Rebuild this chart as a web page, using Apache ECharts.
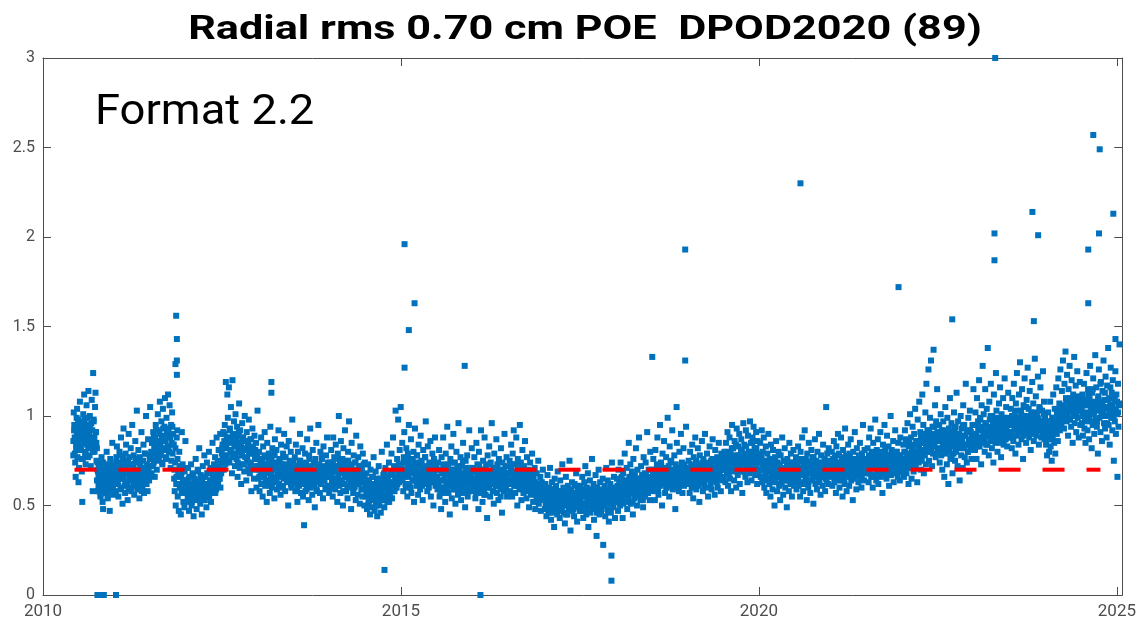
<!DOCTYPE html>
<html>
<head>
<meta charset="utf-8">
<title>Radial rms</title>
<script src="https://cdn.jsdelivr.net/npm/echarts@6/dist/echarts.min.js"></script>
<style>
  html, body { margin: 0; padding: 0; background: #fff; }
  #chart { width: 1139px; height: 621px; }
</style>
</head>
<body>
<div id="chart"></div>
<script>
// radial rms per day, in hundredths of cm, grouped by period start (year)
const periodStarts = [2010.42, 2010.75, 2011.0, 2011.5, 2012.0, 2012.5, 2013.0, 2013.5, 2014.0, 2014.5,
  2015.0, 2015.5, 2016.0, 2016.5, 2017.0, 2017.5, 2018.0, 2018.5, 2019.0, 2019.5,
  2020.0, 2020.5, 2021.0, 2021.5, 2022.0, 2022.5, 2023.0, 2023.5, 2024.0, 2024.5]
const periodEnd = 2025.04

// spread of the daily values in each period
const rmsHundredths = [
  [78,102,95,88,74,66,81,99,104,92,85,63,71,97,108,90,83,76,69,52,94,101,87,112,98,79,73,91,106,84,95,77,114,89,93,100,86,72,96,109,82,58,124,98,88,80,105,113,91,75],
  [82,74,69,61,58,66,72,55,63,77,70,52,48,64,59,68,73,57,62,80,67,54,71,60,65,47,76,63,58,69,85,61,56,72,66],
  [71,64,58,77,83,69,62,55,74,80,67,59,88,72,65,51,76,93,68,61,57,79,84,70,63,53,75,90,66,60,73,82,58,69,95,64,71,78,56,62,86,74,67,103,59,70,81,65,54,77,72,63,91,68,60,75,84,57,66,79,71,100,62,73,58,87,69,64,76,105],
  [72,80,68,85,77,91,74,83,66,88,95,79,70,86,101,82,75,92,108,84,78,97,89,73,104,87,81,94,110,86,76,99,90,83,112,93,80,106,88,71,95,85,102,79,90,84,65,58,74,50,62,88,92,55,68,47,80,60,72,45,66,91,57,63,52,70,49,59,86,64],
  [58,64,52,71,60,47,66,55,62,73,50,57,68,61,44,59,65,53,76,62,48,58,70,63,54,82,60,51,67,57,45,64,72,56,61,78,53,66,59,49,74,62,55,68,80,58,64,71,52,69,61,85,66,57,73,63,77,70,59,88,67,75,62,81,72,65,90,74,68,79],
  [82,76,91,70,86,95,73,119,84,78,112,99,88,116,74,93,81,105,87,68,120,90,79,97,83,72,101,85,76,94,66,89,80,107,71,92,84,62,78,96,73,88,81,69,100,77,86,64,91,75,83,70,98,79,68,87,74,58,82,93,71,80,65,89,76,72,85,60,78,103],
  [72,65,80,58,76,69,88,62,74,55,83,70,66,91,61,77,73,52,85,68,64,79,71,57,94,67,75,60,82,70,63,78,54,87,72,66,81,59,74,69,92,62,76,71,56,84,68,73,61,79,65,90,70,58,77,67,83,63,72,50,86,69,75,64,80,60,71,98,66,74],
  [70,63,77,58,84,66,72,52,80,69,61,75,90,64,57,73,68,82,55,71,39,66,79,62,74,59,87,67,70,53,78,64,93,60,72,68,56,81,65,74,61,49,76,69,85,58,71,63,95,67,73,57,80,66,62,76,70,54,83,68,64,72,59,78,66,88,61,74,69,57],
  [68,74,60,81,66,71,55,88,63,77,69,59,84,72,65,52,79,67,100,61,73,57,86,69,64,76,50,82,70,62,92,67,58,75,71,54,80,65,97,60,73,68,48,85,63,70,57,78,66,61,74,53,89,64,69,56,77,62,72,51,83,67,59,71,55,79,63,66,50,74],
  [62,55,68,48,59,73,51,64,57,45,70,60,53,66,49,58,77,62,47,55,69,52,61,44,65,57,72,50,59,63,46,56,80,61,53,67,58,49,64,71,55,60,84,52,66,58,74,63,57,69,61,79,54,67,88,62,72,58,65,103,70,60,76,66,98,73,63,81,68,105],
  [72,64,85,68,58,77,91,66,74,60,82,70,55,79,67,95,62,73,69,87,57,76,64,71,80,52,68,93,65,74,61,78,70,56,84,67,72,59,89,63,75,69,53,81,66,71,62,77,97,64,70,58,83,68,60,74,66,86,55,72,63,79,67,50,76,69,88,61,73,65],
  [66,59,74,62,81,55,70,64,48,77,68,60,88,57,72,65,52,79,63,69,94,58,73,61,67,45,76,66,83,54,70,62,90,59,68,74,51,65,80,61,71,56,96,64,69,58,77,53,66,72,60,85,57,67,63,49,75,62,70,78,55,68,64,92,59,71,66,60,82,63],
  [64,71,58,77,62,54,69,85,60,73,66,48,80,63,57,70,92,61,67,52,75,64,59,88,68,56,72,63,43,78,65,60,83,69,55,74,62,96,66,58,71,51,79,64,68,61,87,57,73,65,53,76,62,70,59,82,67,46,74,63,69,58,90,65,72,60,77,55,68,64],
  [68,62,75,58,71,84,64,55,79,67,92,61,73,57,69,88,63,50,76,65,70,59,95,66,74,53,62,81,68,57,72,64,86,60,67,54,77,63,58,70,49,65,74,60,56,68,79,61,52,66,59,71,48,63,57,68,54,62,75,51,60,56,66,47,58,63,53,70,55,61],
  [55,48,62,51,44,58,67,53,46,60,50,71,57,42,54,63,49,59,52,38,65,56,47,61,53,45,69,58,50,55,43,64,51,57,48,73,54,60,46,52,40,58,66,50,56,45,61,53,48,75,55,36,59,51,63,47,57,52,44,62,54,49,68,56,41,58,50,60,53,47],
  [54,61,47,58,66,51,43,56,63,49,72,55,45,60,52,68,38,57,50,64,46,59,53,76,48,55,62,42,58,51,67,54,33,60,49,57,70,52,45,63,56,47,59,53,65,28,55,50,61,44,58,71,52,48,64,56,41,59,53,62,46,57,74,51,55,49,66,58,43,60],
  [58,52,65,61,47,70,56,63,50,74,59,66,54,43,68,61,57,79,52,64,60,71,48,62,55,85,66,58,73,51,63,69,57,45,76,61,54,67,59,82,64,50,70,62,56,88,65,60,53,72,58,67,63,49,77,61,68,55,74,64,59,91,57,66,70,62,53,80,65,60],
  [64,70,58,76,62,67,53,81,66,60,73,88,63,56,71,68,95,61,74,65,50,79,67,62,86,70,57,64,77,60,69,99,63,72,55,83,66,61,75,68,92,59,70,64,78,62,48,73,67,85,60,71,65,58,80,69,63,90,66,74,57,68,82,61,72,64,70,94,67,63],
  [68,62,75,70,57,80,65,72,60,84,67,54,77,69,63,88,71,59,74,66,82,61,70,52,78,67,73,64,86,69,58,76,63,71,90,66,74,60,79,68,55,72,65,83,70,62,75,59,67,87,73,64,69,56,81,66,71,63,77,60,74,85,68,65,72,58,79,70,64,76],
  [72,66,80,70,63,85,74,68,91,61,77,71,88,65,79,58,73,95,69,82,75,64,86,71,78,60,93,72,67,83,76,90,62,74,70,87,81,57,76,96,69,84,73,66,92,78,71,63,89,75,80,68,97,72,85,64,77,88,70,94,74,82,67,79,91,73,62,86,76,69],
  [78,70,85,66,74,92,63,80,71,88,60,75,68,83,57,72,79,65,90,70,62,76,55,84,68,73,59,81,67,71,50,77,64,86,69,58,74,66,80,61,72,53,78,67,63,88,70,56,75,65,82,60,71,68,49,76,64,73,58,85,67,62,79,69,55,74,66,81,61,70],
  [70,64,77,59,73,66,83,61,75,68,55,80,71,63,88,67,58,74,69,92,62,76,65,53,79,72,60,85,68,74,57,70,81,64,77,66,51,73,69,87,62,75,67,59,80,71,65,90,63,72,56,78,68,74,61,84,70,66,76,58,73,105,64,79,69,62,82,71,67,75],
  [72,66,80,61,75,69,86,63,77,71,57,83,68,74,90,65,79,60,73,70,88,64,76,55,81,67,72,62,93,70,78,58,74,66,84,69,61,77,71,87,64,75,68,53,80,72,65,91,70,76,59,82,67,73,63,78,71,85,66,74,60,79,69,95,72,64,81,70,76,68],
  [74,68,82,71,63,88,76,70,93,66,79,73,60,85,72,77,67,98,75,64,81,70,87,62,78,74,69,91,66,80,72,57,84,76,71,95,68,79,73,65,89,75,70,83,61,77,72,100,67,81,74,69,86,63,78,71,92,76,68,80,73,66,85,70,78,64,88,72,75,69],
  [76,70,84,66,80,92,73,87,68,79,96,74,62,85,78,101,71,88,65,82,94,75,69,90,80,104,72,86,77,63,98,83,74,108,79,91,70,85,76,112,81,95,68,88,78,102,73,118,84,92,80,126,75,89,99,82,131,86,72,94,79,137,90,83,106,77,97,87,115,81],
  [88,80,95,74,86,101,78,92,70,84,97,82,66,90,105,79,87,73,99,85,62,93,81,110,76,89,96,83,68,91,79,102,86,75,94,80,113,88,72,97,84,90,64,85,100,78,93,87,71,106,82,95,77,89,118,84,74,92,80,99,86,69,103,83,91,76,88,95,81,115],
  [88,95,81,102,90,76,110,85,97,92,120,83,99,88,73,106,94,128,86,101,91,80,115,96,84,104,89,138,93,78,108,98,87,118,92,82,100,95,74,112,89,97,85,124,103,91,80,99,94,107,86,116,90,77,101,96,88,110,84,93,121,98,87,105,92,83,99,113,89,95],
  [95,88,104,91,82,110,97,86,118,93,101,79,107,95,124,89,99,84,112,96,130,91,103,87,115,98,76,106,93,121,90,100,85,109,96,127,92,104,88,114,97,81,102,94,119,90,107,86,99,132,95,111,89,101,92,122,98,84,105,93,116,97,88,103,91,125,96,108,87,100],
  [90,84,97,78,93,102,87,80,95,108,83,91,75,99,88,112,94,85,104,79,96,116,90,101,86,121,98,107,92,126,103,95,114,99,131,105,93,118,100,136,110,97,123,102,89,115,106,128,98,109,94,120,104,85,112,101,133,96,108,117,91,105,125,99,111,88,103,119,95,107],
  [104,96,112,89,101,118,93,108,85,99,124,106,92,115,100,87,110,128,97,104,82,113,95,121,102,90,107,134,98,116,94,103,79,111,126,99,108,91,119,105,86,114,101,131,96,109,93,122,104,88,117,100,138,95,110,84,106,127,99,113,92,120,103,75,109,97,125,90,112,101,66,118,94,107,140]
]

// the dense middle of the band in each period (hundredths of cm)
const coreHundredths = [
  [86,92,79,95,84,90,77,98,88,83,94,81,91,87,76,96,85,89,80,93,86,99,82,90,78,94,87,84,92,80,97,88,83,91,85],
  [64,70,58,67,73,61,66,56,71,63,68,59,74,65,62,69,57,72,64,60,67,55,70,63,66,61,73,58,68,64,71,60,65,62,69],
  [68,74,62,71,65,78,60,70,66,75,63,72,68,59,77,64,69,73,61,67,76,65,70,62,74,68,58,71,66,79,63,69,72,65,67],
  [78,85,72,88,81,92,76,84,90,79,86,74,93,82,87,77,91,83,80,89,75,94,84,70,82,66,76,62,71,68,58,73,64,69,61],
  [60,55,65,58,62,52,67,59,63,56,61,69,54,64,57,60,66,53,62,58,68,61,55,64,70,59,63,66,57,72,62,68,65,60,70],
  [84,78,90,82,88,75,86,92,80,85,77,89,83,79,87,74,91,81,85,78,88,73,82,86,76,84,80,72,87,79,83,70,81,76,78],
  [70,66,75,62,73,68,78,64,71,69,76,61,72,67,74,65,79,70,63,72,68,75,66,71,60,77,69,73,64,70,67,74,62,71,68],
  [68,63,72,60,70,66,75,62,69,73,65,58,71,67,64,76,61,70,68,63,74,66,59,72,65,69,62,77,67,64,71,60,68,73,66],
  [67,71,63,74,60,69,65,72,62,76,68,64,70,58,73,66,69,61,75,67,63,71,65,68,60,74,66,70,62,72,64,69,59,73,67],
  [60,56,64,52,59,62,54,66,57,61,50,63,58,55,65,53,60,57,68,62,55,64,59,52,67,61,58,63,70,60,65,62,68,64,70],
  [70,65,74,68,62,76,71,66,73,60,69,75,64,72,67,78,63,70,66,74,61,71,68,77,65,72,62,69,73,64,70,67,75,63,71],
  [66,62,70,58,68,64,73,60,67,71,63,57,69,65,74,61,66,70,59,67,64,72,62,68,65,75,60,66,69,63,71,58,67,64,70],
  [65,61,69,57,66,63,72,59,67,64,70,56,68,62,65,73,60,66,63,69,58,67,64,71,61,65,68,55,66,62,70,64,59,67,63],
  [68,64,72,62,69,66,73,61,67,70,63,65,71,60,66,68,62,64,58,65,61,67,57,63,60,59,62,55,61,57,60,54,58,56,59],
  [54,50,57,48,55,52,59,46,53,56,51,60,49,54,52,58,47,55,53,50,56,45,54,51,57,49,53,55,48,56,52,61,50,54,53],
  [53,57,49,55,51,59,47,54,52,56,50,58,48,55,53,60,46,54,51,57,49,53,55,50,58,52,54,47,56,51,53,59,50,55,52],
  [57,60,53,62,58,55,64,51,59,61,56,63,54,60,58,66,52,61,57,63,55,59,62,56,65,60,53,62,58,67,61,57,64,59,63],
  [63,67,60,70,64,66,58,69,65,72,62,67,64,71,60,66,69,63,74,65,61,68,66,70,63,67,59,71,65,68,62,73,66,64,69],
  [68,64,71,66,73,62,69,67,75,65,70,63,72,68,66,74,61,69,71,65,73,67,64,70,76,66,69,72,63,68,74,67,70,65,71],
  [73,77,70,80,74,68,79,75,82,71,76,73,84,70,78,75,72,81,77,69,79,74,83,76,71,78,80,73,85,75,77,72,82,76,79],
  [74,70,77,66,72,75,68,71,64,73,69,76,65,70,72,63,74,68,71,66,73,62,70,67,75,69,64,72,68,71,65,74,69,67,72],
  [70,67,74,64,71,68,76,62,72,69,66,75,70,63,73,68,71,65,77,69,72,67,74,64,70,73,66,71,68,75,65,72,69,70,67],
  [72,69,76,66,73,71,78,64,74,70,68,77,72,65,75,70,73,67,79,71,74,69,76,66,72,75,68,73,70,77,67,74,71,72,69],
  [74,71,78,68,75,73,80,66,76,72,70,79,74,67,77,72,75,69,82,73,76,71,78,68,74,77,70,75,72,80,69,76,73,78,75],
  [76,73,80,71,78,75,83,72,79,77,74,84,80,76,86,78,82,75,88,81,85,79,90,83,87,80,92,85,82,89,84,94,86,88,91],
  [86,82,90,79,87,84,92,80,88,85,83,91,86,78,89,84,93,81,87,85,90,82,88,86,95,83,89,84,91,80,87,92,85,88,83],
  [90,86,95,83,92,88,98,85,93,89,87,96,91,84,94,89,100,86,92,90,95,87,93,88,97,85,91,94,89,99,87,92,90,96,88],
  [95,91,100,88,96,93,103,90,97,94,92,101,96,89,99,94,105,91,97,95,100,92,98,93,102,90,96,99,94,104,92,97,95,101,93],
  [92,88,95,90,97,87,94,99,91,96,93,101,95,98,104,97,100,106,99,103,108,101,105,98,110,103,107,100,104,109,102,106,103,108,105],
  [104,100,109,97,106,102,112,99,107,103,115,101,108,105,97,110,104,118,102,107,100,113,105,96,109,103,116,101,106,99,111,104,108,102,106]
]

// isolated days well off the band: [year, rms cm]
const outlierDays = [
  [2010.76, 0], [2010.78, 0], [2010.80, 0], [2010.83, 0], [2010.85, 0], [2011.02, 0],
  [2011.86, 1.56], [2011.87, 1.43], [2011.85, 1.29], [2011.87, 1.31], [2011.87, 1.23],
  [2013.19, 1.19], [2013.19, 1.13],
  [2014.77, 0.14],
  [2015.05, 1.96], [2015.19, 1.63], [2015.11, 1.48], [2015.05, 1.27],
  [2015.89, 1.28], [2016.11, 0.0],
  [2017.94, 0.22], [2017.94, 0.08],
  [2018.51, 1.33], [2018.85, 1.05], [2018.97, 1.93], [2018.97, 1.31],
  [2020.58, 2.30],
  [2021.95, 1.72], [2022.70, 1.54],
  [2023.30, 3.0], [2023.29, 2.02], [2023.29, 1.87],
  [2023.82, 2.14], [2023.90, 2.01], [2023.84, 1.53],
  [2024.67, 2.57], [2024.76, 2.49], [2024.75, 2.02], [2024.60, 1.93], [2024.60, 1.63],
  [2024.95, 2.13], [2024.98, 1.43]
]

const meanRms = 0.70
const meanSpan = [2010.44, 2024.77]
const yearTicks = [2010, 2015, 2020, 2025]

const points = []
function spreadOver(groups) {
  groups.forEach((vals, i) => {
    const t0 = periodStarts[i]
    const t1 = i + 1 < periodStarts.length ? periodStarts[i + 1] : periodEnd
    vals.forEach((v, k) => {
      points.push([t0 + (k + 0.5) / vals.length * (t1 - t0), v / 100])
    })
  })
}
spreadOver(rmsHundredths)
spreadOver(coreHundredths)
outlierDays.forEach(p => points.push(p))

const axisColor = '#4d4d4d'
const font = 'Roboto, "Noto Sans", sans-serif'

function xAx(pos, labels) {
  return {
    type: 'value', position: pos, min: 2010, max: 2025.075,
    axisLine: { show: true, onZero: false, lineStyle: { color: axisColor, width: 1 } },
    axisTick: { show: true, inside: true, length: 8, customValues: yearTicks, lineStyle: { color: axisColor } },
    axisLabel: {
      show: labels, customValues: yearTicks, color: axisColor, fontSize: 17, margin: 8,
      fontFamily: font, formatter: v => String(Math.round(v))
    },
    splitLine: { show: false }
  }
}

function yAx(pos, labels) {
  return {
    type: 'value', position: pos, min: 0, max: 3, interval: 0.5,
    axisLine: { show: true, onZero: false, lineStyle: { color: axisColor, width: 1 } },
    axisTick: { show: true, inside: true, length: 8, lineStyle: { color: axisColor } },
    axisLabel: { show: labels, color: axisColor, fontSize: 16, margin: 8, fontFamily: font },
    splitLine: { show: false }
  }
}

const chart = echarts.init(document.getElementById('chart'), null, { renderer: 'canvas' })
chart.setOption({
  animation: false,
  backgroundColor: '#fff',
  grid: { left: 43, right: 16, top: 58, bottom: 26 },
  xAxis: [xAx('bottom', true), xAx('top', false)],
  yAxis: [yAx('left', true), yAx('right', false)],
  graphic: [
    {
      type: 'text', x: 585, y: 31, scaleX: 1.31,
      style: {
        text: 'Radial rms 0.70 cm POE  DPOD2020 (89)', fill: '#000',
        fontSize: 33, fontWeight: 'bold', fontFamily: font, align: 'center', verticalAlign: 'middle'
      }
    },
    {
      type: 'text', x: 95, y: 113, scaleX: 1.08,
      style: {
        text: 'Format 2.2', fill: '#000',
        fontSize: 42, fontFamily: font, align: 'left', verticalAlign: 'middle'
      }
    }
  ],
  series: [
    {
      name: 'rms', type: 'scatter', data: points,
      symbol: 'rect', symbolSize: 6,
      itemStyle: { color: '#0072BD', opacity: 1 },
      silent: true, z: 2, large: false, progressive: 0
    },
    {
      name: 'mean', type: 'line',
      data: [[meanSpan[0], meanRms], [meanSpan[1], meanRms]],
      showSymbol: false, silent: true, z: 3,
      lineStyle: { color: '#ff0000', width: 4, type: [22, 22] }
    }
  ]
})
</script>
</body>
</html>
